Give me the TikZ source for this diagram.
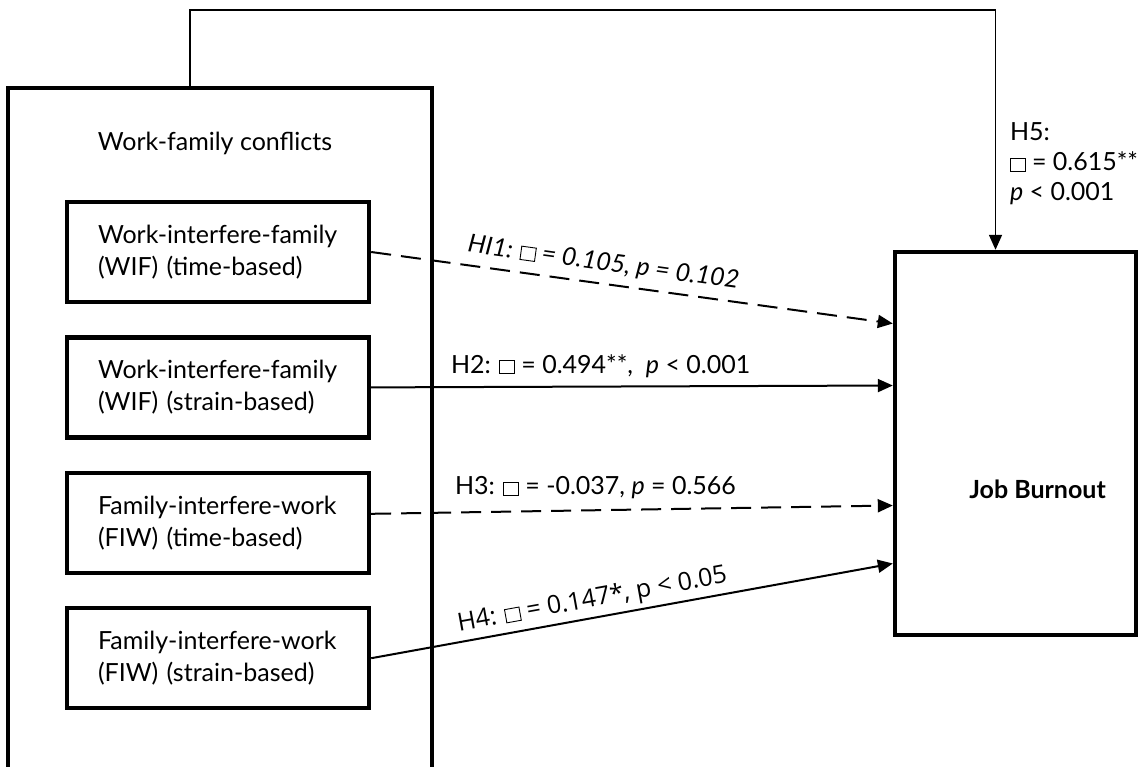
\documentclass[tikz,border=0pt]{standalone}
\usepackage{fontspec}
\setmainfont{Lato}
\newfontfamily\hfourfont{Open Sans}
\usepackage{tikz}
\usetikzlibrary{positioning, arrows.meta, calc}

\newcommand{\fs}{\fontsize{12.5}{16}\selectfont}
\newcommand{\bsq}{{\fboxsep=0pt\fboxrule=0.45pt\fbox{\rule{0pt}{0.5em}\rule{0.55em}{0pt}}}}

\begin{document}
\begin{tikzpicture}[
  x=0.5pt, y=-0.5pt,
  font=\fs,
  group/.style={
    rectangle, draw=black, line width=2.2pt,
    minimum width=212pt, minimum height=362pt
  },
  conflict/.style={
    rectangle, draw=black, line width=2.2pt,
    minimum width=151pt, minimum height=50pt,
    text width=120pt, align=left, inner sep=0pt
  },
  outcome/.style={
    rectangle, draw=black, line width=2.2pt,
    minimum width=120.5pt, minimum height=191.5pt
  },
  arr/.style={-{Triangle[length=7.5pt, width=6.5pt]}, line width=1pt},
  darr/.style={arr, dash pattern=on 10pt off 5pt},
  lbl/.style={inner sep=2pt},
]
\useasboundingbox (0,0) rectangle (1143,766);

% Work-family conflicts (left)
\node[group] (wfc) at (220,450) {};
\node (wfctitle) at (215,143) {Work-family conflicts};

\node[conflict] (wiftime) at (218,252) {
  Work-interfere-family\\
  (WIF) (time-based)
};

\node[conflict, below=15.5pt of wiftime] (wifstrain) {
  Work-interfere-family\\
  (WIF) (strain-based)
};

\node[conflict, below=15.5pt of wifstrain] (fiwtime) {
  Family-interfere-work\\
  (FIW) (time-based)
};

\node[conflict, below=15.5pt of fiwtime] (fiwstrain) {
  Family-interfere-work\\
  (FIW) (strain-based)
};

% Job burnout (right)
\node[outcome] (burnout) at (1015.5,443.5) {};
\node[font=\fs\bfseries] (burnouttxt) at ([xshift=11pt, yshift=-23pt]burnout.center)
  {Job Burnout};

% Arrows
\draw[darr] (wiftime.east) -- ([yshift=60pt]burnout.west)
  node[lbl, sloped, above=2pt, pos=0.44, font=\fs\itshape]
  {HI1: \bsq{} = 0.105, \textit{p} = 0.102};
\draw[arr] (wifstrain.east) -- ([yshift=29pt]burnout.west)
  node[lbl, above=2pt, pos=0.44]
  {H2: \bsq{} = 0.494**,\ \ \textit{p} < 0.001};
\draw[darr] ([yshift=4.5pt]fiwtime.east) -- ([yshift=-31pt]burnout.west)
  node[lbl, above=3pt, pos=0.43]
  {H3: \bsq{} = -0.037, \textit{p} = 0.566};
\draw[arr] (fiwstrain.east) -- ([yshift=-60pt]burnout.west)
  node[lbl, sloped, above, pos=0.43, font=\fs\hfourfont]
  {H4: \bsq{} = 0.147*, p < 0.05};

% Feedback path (H5)
\draw[arr, line width=0.8pt] ([xshift=-15pt]wfc.north) -- ++(0,-76)
  -| ([xshift=-10pt]burnout.north);
\node[align=left, anchor=north west, font=\fontsize{12.5}{15}\selectfont]
  (h5lbl) at (1003,116) {H5:\\ \bsq{} = 0.615**\\ \textit{p} < 0.001};

\end{tikzpicture}
\end{document}
